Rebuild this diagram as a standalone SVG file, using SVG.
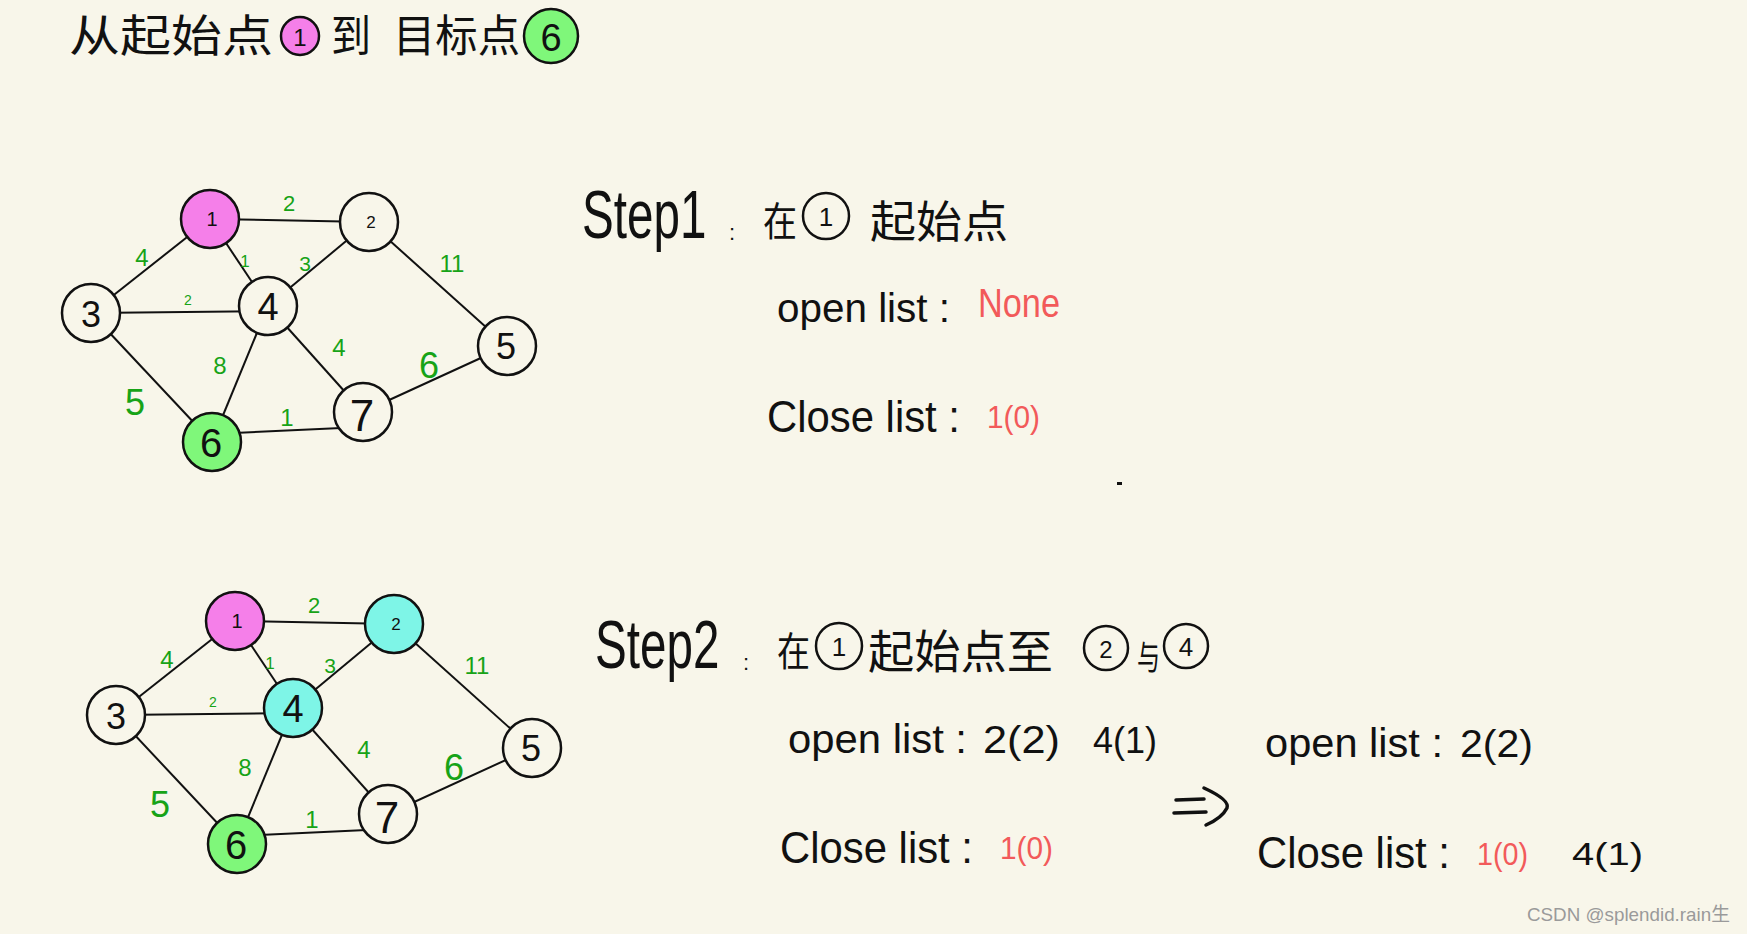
<svg xmlns="http://www.w3.org/2000/svg" width="1747" height="934" viewBox="0 0 1747 934">
<style>
.bg{fill:#f8f6ea}
.edge{stroke:#111;stroke-width:2;fill:none}
.node{stroke:#111;stroke-width:2.5;fill:#f8f6ea}
.pink{fill:#f57fe9}
.green{fill:#7ff77a}
.cyan{fill:#7ef5e7}
.nl{font-family:"Liberation Sans",Arial,sans-serif;fill:#111;text-anchor:middle;dominant-baseline:central}
.wl{font-family:"Liberation Sans",Arial,sans-serif;fill:#17a317;text-anchor:middle;dominant-baseline:central}
.hw{font-family:"Liberation Sans",Arial,sans-serif;fill:#111}
.cjk{font-family:"Noto Sans CJK SC","Liberation Sans",sans-serif;fill:#111}
.red{fill:#f25a5a}
.ring{fill:none;stroke:#111;stroke-width:2.5}
.mark{fill:none;stroke:#111;stroke-width:3.5;stroke-linecap:round;stroke-linejoin:round}
</style>
<rect class="bg" x="0" y="0" width="1747" height="934"/>

<g id="title">
  <text class="cjk" x="69" y="52" font-size="44" textLength="204" lengthAdjust="spacingAndGlyphs">从起始点</text>
  <circle cx="300" cy="36" r="19" class="pink" stroke="#111" stroke-width="2.5"/>
  <text class="nl" x="300" y="37" font-size="24">1</text>
  <text class="cjk" x="331" y="52" font-size="44" textLength="40" lengthAdjust="spacingAndGlyphs">到</text>
  <text class="cjk" x="393" y="52" font-size="44" textLength="127" lengthAdjust="spacingAndGlyphs">目标点</text>
  <circle cx="551" cy="36" r="27" class="green" stroke="#111" stroke-width="2.5"/>
  <text class="nl" x="551" y="38" font-size="38">6</text>
</g>

<!-- Graph 1 -->
<g id="graph1">
  <g id="g1-connectors">
    <line class="edge" x1="210" y1="219" x2="369" y2="222"/>
    <line class="edge" x1="210" y1="219" x2="91" y2="313"/>
    <line class="edge" x1="210" y1="219" x2="268" y2="306"/>
    <line class="edge" x1="369" y1="222" x2="268" y2="306"/>
    <line class="edge" x1="369" y1="222" x2="507" y2="346"/>
    <line class="edge" x1="91" y1="313" x2="268" y2="311"/>
    <line class="edge" x1="91" y1="313" x2="212" y2="442"/>
    <line class="edge" x1="268" y1="306" x2="212" y2="442"/>
    <line class="edge" x1="268" y1="306" x2="363" y2="412"/>
    <line class="edge" x1="363" y1="412" x2="507" y2="346"/>
    <line class="edge" x1="212" y1="434" x2="363" y2="427"/>
    <text class="wl" x="289" y="203" font-size="22">2</text>
    <text class="wl" x="142" y="257" font-size="24">4</text>
    <text class="wl" x="245" y="261" font-size="17">1</text>
    <text class="wl" x="305" y="263" font-size="21">3</text>
    <text class="wl" x="452" y="263" font-size="24">11</text>
    <text class="wl" x="188" y="300" font-size="14">2</text>
    <text class="wl" x="339" y="347" font-size="24">4</text>
    <text class="wl" x="220" y="365" font-size="24">8</text>
    <text class="wl" x="429" y="365" font-size="36">6</text>
    <text class="wl" x="135" y="402" font-size="36">5</text>
    <text class="wl" x="287" y="417" font-size="24">1</text>
  </g>
  <g id="g1-n1"><circle class="node pink" cx="210" cy="219" r="29"/><text class="nl" x="212" y="219" font-size="20">1</text></g>
  <g id="g1-n2"><circle class="node" cx="369" cy="222" r="29"/><text class="nl" x="371" y="222" font-size="17">2</text></g>
  <g id="g1-n3"><circle class="node" cx="91" cy="313" r="29"/><text class="nl" x="91" y="314" font-size="36">3</text></g>
  <g id="g1-n4"><circle class="node" cx="268" cy="306" r="29"/><text class="nl" x="268" y="307" font-size="38">4</text></g>
  <g id="g1-n5"><circle class="node" cx="507" cy="346" r="29"/><text class="nl" x="506" y="346" font-size="36">5</text></g>
  <g id="g1-n6"><circle class="node green" cx="212" cy="442" r="29"/><text class="nl" x="211" y="443" font-size="40">6</text></g>
  <g id="g1-n7"><circle class="node" cx="363" cy="412" r="29"/><text class="nl" x="362" y="415" font-size="44">7</text></g>
</g>

<!-- Step 1 text -->
<g id="step1">
  <text class="hw" transform="translate(582,238) scale(0.7,1)" x="0" y="0" font-size="68">Step1</text>
  <text class="hw" x="729" y="240" font-size="22">:</text>
  <text class="cjk" x="763" y="236" font-size="40" textLength="34" lengthAdjust="spacingAndGlyphs">在</text>
  <circle class="ring" cx="826" cy="216" r="23"/>
  <text class="nl" x="826" y="217" font-size="26">1</text>
  <text class="cjk" x="870" y="238" font-size="44" textLength="138" lengthAdjust="spacingAndGlyphs">起始点</text>
  <text class="hw" x="777" y="322" font-size="40" textLength="173" lengthAdjust="spacingAndGlyphs">open list :</text>
  <text class="hw red" x="978" y="317" font-size="40" textLength="82" lengthAdjust="spacingAndGlyphs">None</text>
  <text class="hw" x="767" y="432" font-size="44" textLength="193" lengthAdjust="spacingAndGlyphs">Close list :</text>
  <text class="hw red" x="987" y="428" font-size="32" textLength="53" lengthAdjust="spacingAndGlyphs">1(0)</text>
  <rect x="1117" y="482" width="5" height="3" fill="#111"/>
</g>

<!-- Graph 2 -->
<g id="graph2" transform="translate(25,402)">
  <g id="g2-connectors">
    <line class="edge" x1="210" y1="219" x2="369" y2="222"/>
    <line class="edge" x1="210" y1="219" x2="91" y2="313"/>
    <line class="edge" x1="210" y1="219" x2="268" y2="306"/>
    <line class="edge" x1="369" y1="222" x2="268" y2="306"/>
    <line class="edge" x1="369" y1="222" x2="507" y2="346"/>
    <line class="edge" x1="91" y1="313" x2="268" y2="311"/>
    <line class="edge" x1="91" y1="313" x2="212" y2="442"/>
    <line class="edge" x1="268" y1="306" x2="212" y2="442"/>
    <line class="edge" x1="268" y1="306" x2="363" y2="412"/>
    <line class="edge" x1="363" y1="412" x2="507" y2="346"/>
    <line class="edge" x1="212" y1="434" x2="363" y2="427"/>
    <text class="wl" x="289" y="203" font-size="22">2</text>
    <text class="wl" x="142" y="257" font-size="24">4</text>
    <text class="wl" x="245" y="261" font-size="17">1</text>
    <text class="wl" x="305" y="263" font-size="21">3</text>
    <text class="wl" x="452" y="263" font-size="24">11</text>
    <text class="wl" x="188" y="300" font-size="14">2</text>
    <text class="wl" x="339" y="347" font-size="24">4</text>
    <text class="wl" x="220" y="365" font-size="24">8</text>
    <text class="wl" x="429" y="365" font-size="36">6</text>
    <text class="wl" x="135" y="402" font-size="36">5</text>
    <text class="wl" x="287" y="417" font-size="24">1</text>
  </g>
  <g id="g2-n1"><circle class="node pink" cx="210" cy="219" r="29"/><text class="nl" x="212" y="219" font-size="20">1</text></g>
  <g id="g2-n2"><circle class="node cyan" cx="369" cy="222" r="29"/><text class="nl" x="371" y="222" font-size="17">2</text></g>
  <g id="g2-n3"><circle class="node" cx="91" cy="313" r="29"/><text class="nl" x="91" y="314" font-size="36">3</text></g>
  <g id="g2-n4"><circle class="node cyan" cx="268" cy="306" r="29"/><text class="nl" x="268" y="307" font-size="38">4</text></g>
  <g id="g2-n5"><circle class="node" cx="507" cy="346" r="29"/><text class="nl" x="506" y="346" font-size="36">5</text></g>
  <g id="g2-n6"><circle class="node green" cx="212" cy="442" r="29"/><text class="nl" x="211" y="443" font-size="40">6</text></g>
  <g id="g2-n7"><circle class="node" cx="363" cy="412" r="29"/><text class="nl" x="362" y="415" font-size="44">7</text></g>
</g>

<!-- Step 2 text -->
<g id="step2">
  <text class="hw" transform="translate(595,668) scale(0.7,1)" x="0" y="0" font-size="68">Step2</text>
  <text class="hw" x="743" y="670" font-size="22">:</text>
  <text class="cjk" x="777" y="666" font-size="40" textLength="33" lengthAdjust="spacingAndGlyphs">在</text>
  <circle class="ring" cx="839" cy="646" r="23"/>
  <text class="nl" x="839" y="647" font-size="26">1</text>
  <text class="cjk" x="868" y="668" font-size="46" textLength="185" lengthAdjust="spacingAndGlyphs">起始点至</text>
  <circle class="ring" cx="1106" cy="648" r="22"/>
  <text class="nl" x="1106" y="649" font-size="24">2</text>
  <text class="cjk" x="1137" y="670" font-size="34" textLength="23" lengthAdjust="spacingAndGlyphs">与</text>
  <circle class="ring" cx="1186" cy="646" r="22"/>
  <text class="nl" x="1186" y="647" font-size="26">4</text>
  <text class="hw" x="788" y="753" font-size="40" textLength="179" lengthAdjust="spacingAndGlyphs">open list :</text>
  <text class="hw" x="983" y="753" font-size="38" textLength="77" lengthAdjust="spacingAndGlyphs">2(2)</text>
  <text class="hw" x="1093" y="753" font-size="36" textLength="64" lengthAdjust="spacingAndGlyphs">4(1)</text>
  <text class="hw" x="780" y="863" font-size="44" textLength="193" lengthAdjust="spacingAndGlyphs">Close list :</text>
  <text class="hw red" x="1000" y="859" font-size="32" textLength="53" lengthAdjust="spacingAndGlyphs">1(0)</text>
  <path class="mark" d="M1176 800 L1204 799 M1174 813 L1206 812 M1204 788 Q1230 800 1227 808 Q1222 818 1206 825"/>
  <text class="hw" x="1265" y="757" font-size="40" textLength="178" lengthAdjust="spacingAndGlyphs">open list :</text>
  <text class="hw" x="1460" y="757" font-size="38" textLength="73" lengthAdjust="spacingAndGlyphs">2(2)</text>
  <text class="hw" x="1257" y="868" font-size="44" textLength="193" lengthAdjust="spacingAndGlyphs">Close list :</text>
  <text class="hw red" x="1477" y="865" font-size="32" textLength="51" lengthAdjust="spacingAndGlyphs">1(0)</text>
  <text class="hw" x="1572" y="865" font-size="32" textLength="71" lengthAdjust="spacingAndGlyphs">4(1)</text>
</g>

<text x="1527" y="921" font-family="Liberation Sans,Arial,'Noto Sans CJK SC',sans-serif" font-size="19" fill="#9a9a9a" textLength="203" lengthAdjust="spacingAndGlyphs">CSDN @splendid.rain生</text>
</svg>
